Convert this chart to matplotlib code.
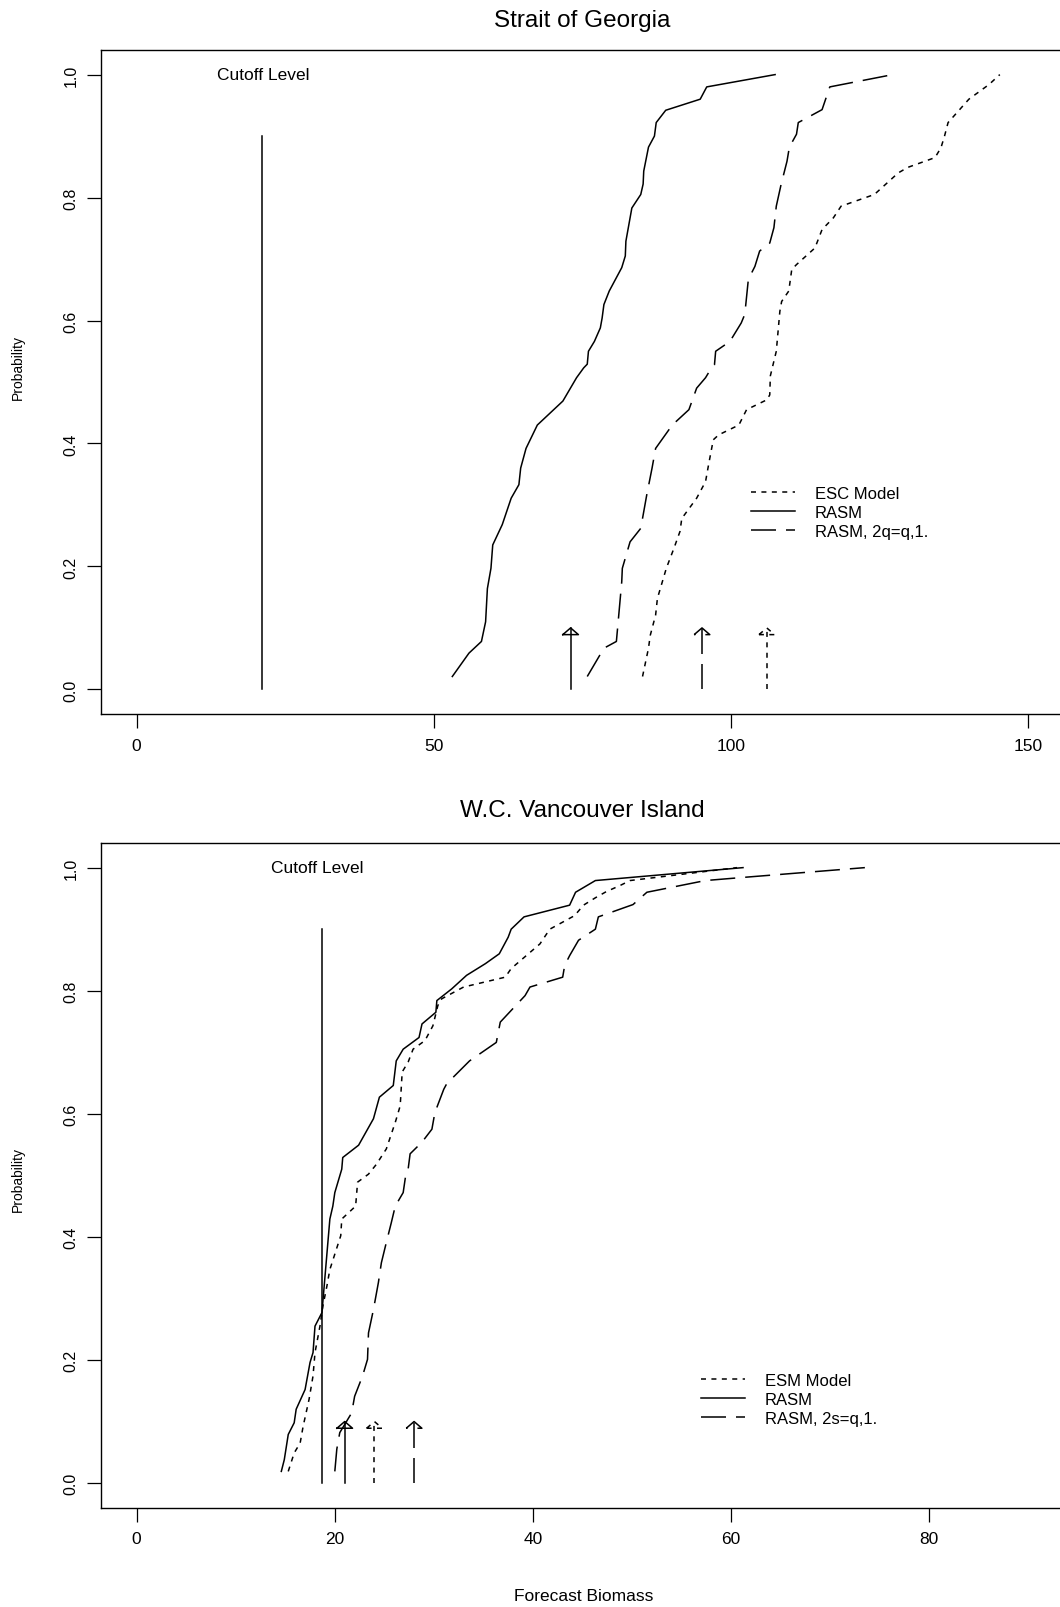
# =================
# IMPORTS
# =================
import matplotlib
matplotlib.use("Agg")
import matplotlib.pyplot as plt

plt.rcParams["font.family"] = ["Liberation Sans", "DejaVu Sans"]
plt.rcParams["lines.scale_dashes"] = False


# =================
# DATA
# =================
# Strait of Georgia - cumulative probability vs forecast biomass
sog_rasm_x = [53.1, 55.9, 58.0, 58.7, 59.0, 59.6, 59.9, 61.5, 63.0, 64.3, 64.6, 65.5, 67.4,
              71.7, 74.0, 75.2, 75.8, 76.0, 77.0, 78.0, 78.3, 78.6, 79.5, 81.6, 82.2, 82.3,
              82.8, 83.3, 84.8, 85.2, 85.3, 86.1, 87.1, 87.4, 89.0, 94.8, 95.9, 107.4]
sog_rasm_p = [0.021, 0.059, 0.078, 0.110, 0.164, 0.197, 0.235, 0.268, 0.311, 0.333, 0.360,
              0.392, 0.430, 0.469, 0.507, 0.523, 0.529, 0.550, 0.566, 0.588, 0.604, 0.626,
              0.648, 0.686, 0.705, 0.729, 0.756, 0.783, 0.805, 0.822, 0.843, 0.882, 0.900,
              0.922, 0.942, 0.960, 0.980, 1.000]

sog_rasm2_x = [75.8, 78.6, 80.7, 81.1, 81.6, 81.7, 83.0, 84.8, 85.8, 86.7, 87.3, 90.1, 92.9,
               94.2, 95.7, 96.7, 97.2, 97.4, 99.8, 101.7, 102.3, 102.9, 104.0, 104.8, 106.5,
               107.2, 107.6, 108.4, 109.4, 109.8, 111.0, 111.3, 115.3, 116.6, 127.2]
sog_rasm2_p = [0.021, 0.067, 0.078, 0.121, 0.175, 0.197, 0.240, 0.262, 0.316, 0.360, 0.392,
               0.430, 0.455, 0.490, 0.507, 0.523, 0.528, 0.550, 0.566, 0.596, 0.610, 0.667,
               0.688, 0.713, 0.726, 0.751, 0.786, 0.821, 0.859, 0.882, 0.903, 0.922, 0.943,
               0.980, 1.000]

sog_esc_x = [85.1, 86.1, 86.4, 87.3, 87.6, 89.1, 90.4, 91.4, 91.7, 94.2, 95.7, 96.2, 97.0,
             97.9, 101.3, 102.6, 106.0, 106.5, 106.6, 107.6, 108.2, 108.5, 109.7, 110.2,
             111.0, 114.1, 115.3, 117.2, 118.5, 124.1, 128.1, 129.7, 134.3, 135.3, 135.9,
             136.5, 140.0, 143.4, 145.2]
sog_esc_p = [0.021, 0.067, 0.088, 0.121, 0.148, 0.197, 0.230, 0.257, 0.278, 0.311, 0.338,
             0.365, 0.406, 0.414, 0.430, 0.455, 0.471, 0.479, 0.510, 0.550, 0.615, 0.631,
             0.648, 0.683, 0.691, 0.718, 0.748, 0.767, 0.786, 0.805, 0.840, 0.849, 0.865,
             0.881, 0.900, 0.922, 0.960, 0.984, 1.000]

sog_cutoff = 21.1
sog_cutoff_label_x = 21.3
sog_arrows = {"rasm": 73.0, "rasm2": 95.1, "esc": 106.0}

# W.C. Vancouver Island
wcvi_rasm_x = [14.6, 14.9, 15.3, 15.9, 16.1, 17.0, 17.5, 17.8, 18.0, 18.7, 19.5, 19.8, 20.0,
               20.7, 20.8, 22.4, 23.9, 24.5, 25.9, 26.2, 26.9, 28.5, 28.8, 30.2, 30.3, 31.8,
               33.3, 35.2, 36.6, 37.5, 37.8, 39.1, 43.7, 44.3, 46.3, 61.2]
wcvi_rasm_p = [0.019, 0.038, 0.079, 0.098, 0.120, 0.152, 0.196, 0.212, 0.255, 0.277, 0.429,
               0.450, 0.472, 0.510, 0.529, 0.549, 0.592, 0.627, 0.646, 0.686, 0.705, 0.724,
               0.746, 0.765, 0.784, 0.803, 0.825, 0.844, 0.860, 0.887, 0.900, 0.920, 0.939,
               0.960, 0.979, 1.000]

wcvi_esm_x = [15.3, 15.9, 16.5, 16.8, 17.4, 17.8, 18.0, 18.5, 18.8, 19.2, 19.5, 20.6, 20.7,
              22.1, 22.3, 23.4, 24.2, 25.2, 26.1, 26.6, 26.8, 27.4, 27.9, 29.1, 29.9, 30.4,
              30.8, 33.0, 37.2, 37.8, 40.7, 41.7, 44.2, 45.1, 46.3, 47.4, 48.8, 49.8, 60.6]
wcvi_esm_p = [0.019, 0.049, 0.065, 0.092, 0.136, 0.174, 0.212, 0.255, 0.288, 0.320, 0.347,
              0.402, 0.429, 0.450, 0.489, 0.502, 0.518, 0.543, 0.586, 0.613, 0.668, 0.684,
              0.705, 0.719, 0.743, 0.776, 0.787, 0.806, 0.822, 0.836, 0.876, 0.900, 0.922,
              0.939, 0.951, 0.961, 0.971, 0.979, 1.000]

wcvi_rasm2_x = [20.0, 20.2, 20.5, 21.7, 22.0, 22.8, 23.3, 23.4, 23.9, 24.4, 24.7, 25.2, 25.7,
                26.1, 26.9, 27.2, 27.4, 27.6, 28.8, 29.8, 30.1, 31.0, 31.3, 33.6, 36.3, 36.7,
                39.2, 39.7, 43.0, 43.2, 43.7, 44.6, 46.3, 46.6, 50.1, 51.5, 57.4, 61.9, 73.5]
wcvi_rasm2_p = [0.019, 0.055, 0.082, 0.114, 0.141, 0.174, 0.201, 0.244, 0.282, 0.326, 0.358,
                0.391, 0.423, 0.450, 0.472, 0.505, 0.510, 0.535, 0.554, 0.575, 0.602, 0.640,
                0.649, 0.686, 0.716, 0.749, 0.792, 0.806, 0.822, 0.841, 0.857, 0.882, 0.900,
                0.920, 0.940, 0.960, 0.979, 0.985, 1.000]

wcvi_cutoff = 18.75
wcvi_cutoff_label_x = 18.2
wcvi_arrows = {"rasm": 21.0, "esm": 24.0, "rasm2": 28.0}

y_ticks = [0.0, 0.2, 0.4, 0.6, 0.8, 1.0]
y_tick_labels = ["0.0", "0.2", "0.4", "0.6", "0.8", "1.0"]


# =================
# STYLE
# =================
LW = 1.1
SOLID = "-"
SHORT = (0, (3.6, 3.9))
LONG = (0, (18, 7.2))
ARROW_TOP = 0.1


def styl(ax, xlim, xticks):
    ax.set_xlim(*xlim)
    ax.set_ylim(-0.04, 1.04)
    ax.set_xticks(xticks)
    ax.set_xticklabels([str(t) for t in xticks], fontsize=12.5)
    ax.set_yticks(y_ticks)
    ax.set_yticklabels(y_tick_labels, rotation=90, va="center", fontsize=11.5)
    ax.tick_params(direction="out", length=10, width=0.9, color="black")
    ax.tick_params(axis="x", pad=7)
    ax.tick_params(axis="y", pad=6)
    for s in ax.spines.values():
        s.set_linewidth(1.0)


def strzalka(ax, x, ls):
    # shaft from 0 up to the head, plus open triangular head (size in pixels)
    x0, x1 = ax.get_xlim()
    y0, y1 = ax.get_ylim()
    hw = 7.8 * (x1 - x0) / ax.bbox.width
    hh = 6.7 * (y1 - y0) / ax.bbox.height
    ax.plot([x, x], [0, ARROW_TOP], color="black", lw=LW, linestyle=ls)
    ax.plot([x - hw, x, x + hw, x - hw],
            [ARROW_TOP - hh, ARROW_TOP, ARROW_TOP - hh, ARROW_TOP - hh],
            color="black", lw=LW, linestyle=ls)


def cutoff(ax, x, label_x):
    ax.plot([x, x], [0, 0.9], color="black", lw=LW)
    ax.text(label_x, 1.0, "Cutoff Level", ha="center", va="center", fontsize=12.5)


def legenda(ax, handles, labels, anchor):
    ax.legend(handles, labels, loc="upper left", bbox_to_anchor=anchor,
              bbox_transform=ax.transData, frameon=False, fontsize=12,
              handlelength=2.6, handletextpad=1.2, labelspacing=0.23,
              borderpad=0, borderaxespad=0)


# =================
# FIGURE
# =================
fig = plt.figure(figsize=(10.6, 16.08), dpi=100)

# the plot box runs a little past the right edge, as in the original
ax1 = fig.add_axes([0.09528, 0.55535, 0.9085, 0.41293])
ax2 = fig.add_axes([0.09528, 0.06175, 0.9085, 0.41337])

# ---- Strait of Georgia ----
styl(ax1, (-6, 156), [0, 50, 100, 150])
l_esc, = ax1.plot(sog_esc_x, sog_esc_p, color="black", lw=LW, linestyle=SHORT)
l_rasm, = ax1.plot(sog_rasm_x, sog_rasm_p, color="black", lw=LW, linestyle=SOLID)
l_rasm2, = ax1.plot(sog_rasm2_x, sog_rasm2_p, color="black", lw=LW, linestyle=LONG)
cutoff(ax1, sog_cutoff, sog_cutoff_label_x)
strzalka(ax1, sog_arrows["rasm"], SOLID)
strzalka(ax1, sog_arrows["rasm2"], LONG)
strzalka(ax1, sog_arrows["esc"], SHORT)
legenda(ax1, [l_esc, l_rasm, l_rasm2], ["ESC Model", "RASM", "RASM, 2q=q,1."], (103.4, 0.331))

# ---- W.C. Vancouver Island ----
styl(ax2, (-3.6, 93.6), [0, 20, 40, 60, 80])
m_esm, = ax2.plot(wcvi_esm_x, wcvi_esm_p, color="black", lw=LW, linestyle=SHORT)
m_rasm, = ax2.plot(wcvi_rasm_x, wcvi_rasm_p, color="black", lw=LW, linestyle=SOLID)
m_rasm2, = ax2.plot(wcvi_rasm2_x, wcvi_rasm2_p, color="black", lw=LW, linestyle=LONG)
cutoff(ax2, wcvi_cutoff, wcvi_cutoff_label_x)
strzalka(ax2, wcvi_arrows["rasm"], SOLID)
strzalka(ax2, wcvi_arrows["esm"], SHORT)
strzalka(ax2, wcvi_arrows["rasm2"], LONG)
legenda(ax2, [m_esm, m_rasm, m_rasm2], ["ESM Model", "RASM", "RASM, 2s=q,1."], (57.0, 0.179))

# ---- titles and axis labels ----
fig.text(0.549, 1 - 21 / 1608, "Strait of Georgia", ha="center", va="center", fontsize=17.5)
fig.text(0.549, 1 - 811 / 1608, "W.C. Vancouver Island", ha="center", va="center", fontsize=17.5)
fig.text(0.0165, 1 - 368 / 1608, "Probability", rotation=90, ha="center", va="center", fontsize=10)
fig.text(0.0165, 1 - 1180 / 1608, "Probability", rotation=90, ha="center", va="center", fontsize=10)
fig.text(0.551, 1 - 1597 / 1608, "Forecast Biomass", ha="center", va="center", fontsize=12.5)

fig.savefig("out.png", dpi=100)
